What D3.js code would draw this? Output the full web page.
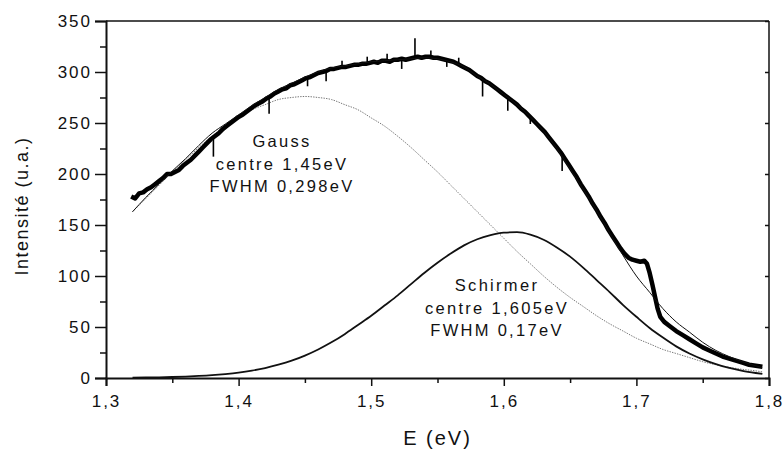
<!DOCTYPE html>
<html>
<head>
<meta charset="utf-8">
<script src="https://cdn.jsdelivr.net/npm/d3@7"></script>
<style>
  body { margin: 0; background: #fff; }
  text { font-family: "Liberation Sans", Arial, sans-serif; fill: #111; }
  .axis path, .axis line { stroke: #111; }
</style>
</head>
<body>
<script>
var dataE = [1.319,1.322,1.325,1.328,1.331,1.334,1.337,1.340,1.343,1.346,1.349,1.352,1.355,1.358,1.361,1.364,1.367,1.370,1.373,1.376,1.379,1.382,1.385,1.388,1.391,1.394,1.397,1.400,1.403,1.406,1.409,1.412,1.415,1.418,1.421,1.424,1.427,1.430,1.433,1.436,1.439,1.442,1.445,1.448,1.451,1.454,1.457,1.460,1.463,1.466,1.469,1.472,1.475,1.478,1.481,1.484,1.487,1.490,1.493,1.496,1.499,1.502,1.505,1.508,1.511,1.514,1.517,1.520,1.523,1.526,1.529,1.532,1.535,1.538,1.541,1.544,1.547,1.550,1.553,1.556,1.559,1.562,1.565,1.568,1.571,1.574,1.577,1.580,1.583,1.586,1.589,1.592,1.595,1.598,1.601,1.604,1.607,1.610,1.613,1.616,1.619,1.622,1.625,1.628,1.631,1.634,1.637,1.640,1.643,1.646,1.649,1.652,1.655,1.658,1.661,1.664,1.667,1.670,1.673,1.676,1.679,1.682,1.685,1.688,1.691,1.694,1.697,1.700,1.703,1.706,1.708,1.710,1.712,1.714,1.716,1.718,1.721,1.725,1.730,1.735,1.740,1.745,1.750,1.755,1.760,1.765,1.770,1.775,1.780,1.785,1.790,1.795];
var dataI = [178,176,181,182,185,187,190,193,196,200,200,202,204,208,211,214,218,222,226,230,234,237,240,244,247,250,253,256,258,261,264,267,269,271,274,276,279,281,283,284,287,288,290,292,294,295,297,299,300,301,303,303,304,305,305,306,307,307,308,308,309,310,309,311,311,310,312,312,313,312,313,314,315,314,315,315,314,314,313,312,311,310,308,306,304,302,299,296,294,291,289,286,283,280,277,274,271,268,264,261,257,253,249,245,241,236,231,226,221,215,209,203,197,190,184,178,171,165,158,152,145,139,133,127,122,118,116,115,114,115,112,103,92,80,68,60,55,51,46,42,38,34,30,27,24,21,19,17,15,13,12,11];

// isolated noise spikes on the measured trace
var spikeE    = [1.381, 1.423, 1.452, 1.466, 1.478, 1.497, 1.512, 1.523, 1.533, 1.545, 1.557, 1.566, 1.584, 1.603, 1.620, 1.644];
var spikeBase = [236, 275, 293, 301, 305, 308, 311, 313, 314, 315, 312, 308, 293, 275, 255, 219];
var spikeTip  = [217, 259, 286, 291, 311, 315, 318, 303, 333, 321, 305, 314, 276, 262, 249, 203];

// fitted components
var fitE = [1.32,1.33,1.34,1.35,1.36,1.37,1.38,1.39,1.40,1.41,1.42,1.43,1.44,1.45,1.46,1.47,1.48,1.49,1.50,1.51,1.52,1.53,1.54,1.55,1.56,1.57,1.58,1.59,1.60,1.61,1.62,1.63,1.64,1.65,1.66,1.67,1.68,1.69,1.70,1.71,1.72,1.73,1.74,1.75,1.76,1.77,1.78,1.79,1.795];
var gauss = [163,176,189,202,214,226,237,247,255,263,268,273,275,276,275,273,268,263,255,247,237,226,214,202,189,176,163,150,137,124,112,100,89,79,70,61,53,46,39,33.5,28,24,20,16,13,10.5,8.5,7,6];
var schirmer = [0.3,0.5,0.7,1,1.4,2,2.8,3.9,5.3,7.2,9.7,13,17,22,28,35,43,52,61,71,81,92,103,113,122,130,136,140,142.5,143,140.6,135.6,128,119,108,96,84,71.5,60,49,39.6,31,24,18.3,13.6,9.9,7,4.9,4];
var fitSum = [163,177,190,203,215,228,240,249,258,267,275,283,289,295,300,304,306,308,310,311,312,313,314,313,310,305,296,288,278,268,256,242,225,205,185,164,142,120,100,84,68,55,45,35,27,21,16,12,10];

var xTicks = [1.3, 1.4, 1.5, 1.6, 1.7, 1.8];
var xMinor = [1.35, 1.45, 1.55, 1.65, 1.75];
var yTicks = [0, 50, 100, 150, 200, 250, 300, 350];
var yMinor = [25, 75, 125, 175, 225, 275, 325];

var width = 784, height = 453;
var margin = {left: 106, right: 15, top: 21, bottom: 75};
var w = width - margin.left - margin.right;
var h = height - margin.top - margin.bottom;

var x = d3.scaleLinear().domain([1.3, 1.8]).range([0, w]);
var y = d3.scaleLinear().domain([0, 350]).range([h, 0]);

var fr = d3.formatLocale({decimal: ",", thousands: ".", grouping: [3], currency: ["", ""]});
var fmtX = fr.format(".1f");

var svg = d3.select("body").append("svg").attr("width", width).attr("height", height);
var g = svg.append("g").attr("transform", "translate(" + margin.left + "," + margin.top + ")");

// frame top / right
g.append("line").attr("x1", 0).attr("x2", w).attr("y1", 0).attr("y2", 0)
  .attr("stroke", "#111").attr("stroke-width", 1.5);
g.append("line").attr("x1", w).attr("x2", w).attr("y1", 0).attr("y2", h)
  .attr("stroke", "#111").attr("stroke-width", 1.5);
g.append("g").attr("class", "axis").attr("transform", "translate(" + w + ",0)")
  .call(d3.axisRight(y).tickValues(yTicks).tickSize(-4).tickFormat(""))
  .call(function(s){ s.select(".domain").remove(); });

// fitted lines
var line = d3.line().x(function(d){ return x(d[0]); }).y(function(d){ return y(d[1]); });
var smooth = d3.line().curve(d3.curveMonotoneX).x(function(d){ return x(d[0]); }).y(function(d){ return y(d[1]); });

g.append("path").attr("d", smooth(d3.zip(fitE, gauss)))
  .attr("fill", "none").attr("stroke", "#777").attr("stroke-width", 1)
  .attr("stroke-dasharray", "1.4,1.2");
g.append("path").attr("d", smooth(d3.zip(fitE, schirmer)))
  .attr("fill", "none").attr("stroke", "#111").attr("stroke-width", 1.8);

// measured trace
g.append("path").attr("d", line(d3.zip(dataE, dataI)))
  .attr("fill", "none").attr("stroke", "#000").attr("stroke-width", 4.5)
  .attr("stroke-linejoin", "round");
g.selectAll(".spike").data(spikeE).enter().append("line")
  .attr("class", "spike")
  .attr("x1", function(d){ return x(d); }).attr("x2", function(d){ return x(d); })
  .attr("y1", function(d, i){ return y(spikeBase[i]); })
  .attr("y2", function(d, i){ return y(spikeTip[i]); })
  .attr("stroke", "#000").attr("stroke-width", 1.6);

g.append("path").attr("d", smooth(d3.zip(fitE, fitSum)))
  .attr("fill", "none").attr("stroke", "#111").attr("stroke-width", 1);

// axes
g.append("g").attr("class", "axis")
  .call(d3.axisLeft(y).tickValues(yTicks).tickSize(11).tickPadding(3));
g.append("g").attr("class", "axis")
  .call(d3.axisLeft(y).tickValues(yMinor).tickSize(6).tickFormat(""))
  .call(function(s){ s.select(".domain").remove(); });
g.append("g").attr("class", "axis").attr("transform", "translate(0," + h + ")")
  .call(d3.axisBottom(x).tickValues(xTicks).tickSize(8).tickPadding(9).tickFormat(fmtX));
g.append("g").attr("class", "axis").attr("transform", "translate(0," + h + ")")
  .call(d3.axisBottom(x).tickValues(xMinor).tickSize(5).tickFormat(""))
  .call(function(s){ s.select(".domain").remove(); });

g.selectAll(".axis .domain").attr("stroke-width", 2);
g.selectAll(".axis .tick line").attr("stroke-width", 1.5);
g.selectAll(".axis text").style("font-size", "17px").style("letter-spacing", "2px")
  .style("font-family", "'Liberation Sans', Arial, sans-serif").attr("fill", "#111");

// axis titles
svg.append("text").attr("transform", "translate(28,206) rotate(-90)")
  .attr("text-anchor", "middle").style("font-size", "18px").style("letter-spacing", "1.5px")
  .text("Intensité (u.a.)");
svg.append("text").attr("x", margin.left + w / 2).attr("y", 445)
  .attr("text-anchor", "middle").style("font-size", "20px").style("letter-spacing", "2px")
  .text("E (eV)");

// annotations
function note(cx, y0, lines) {
  var t = svg.append("text").attr("text-anchor", "middle")
    .style("font-size", "16.5px").style("letter-spacing", "2.3px");
  lines.forEach(function(s, i){
    t.append("tspan").attr("x", cx).attr("y", y0 + i * 22.5).text(s);
  });
}
note(282, 147, ["Gauss", "centre 1,45eV", "FWHM 0,298eV"]);
note(497, 291, ["Schirmer", "centre 1,605eV", "FWHM 0,17eV"]);
</script>
</body>
</html>
